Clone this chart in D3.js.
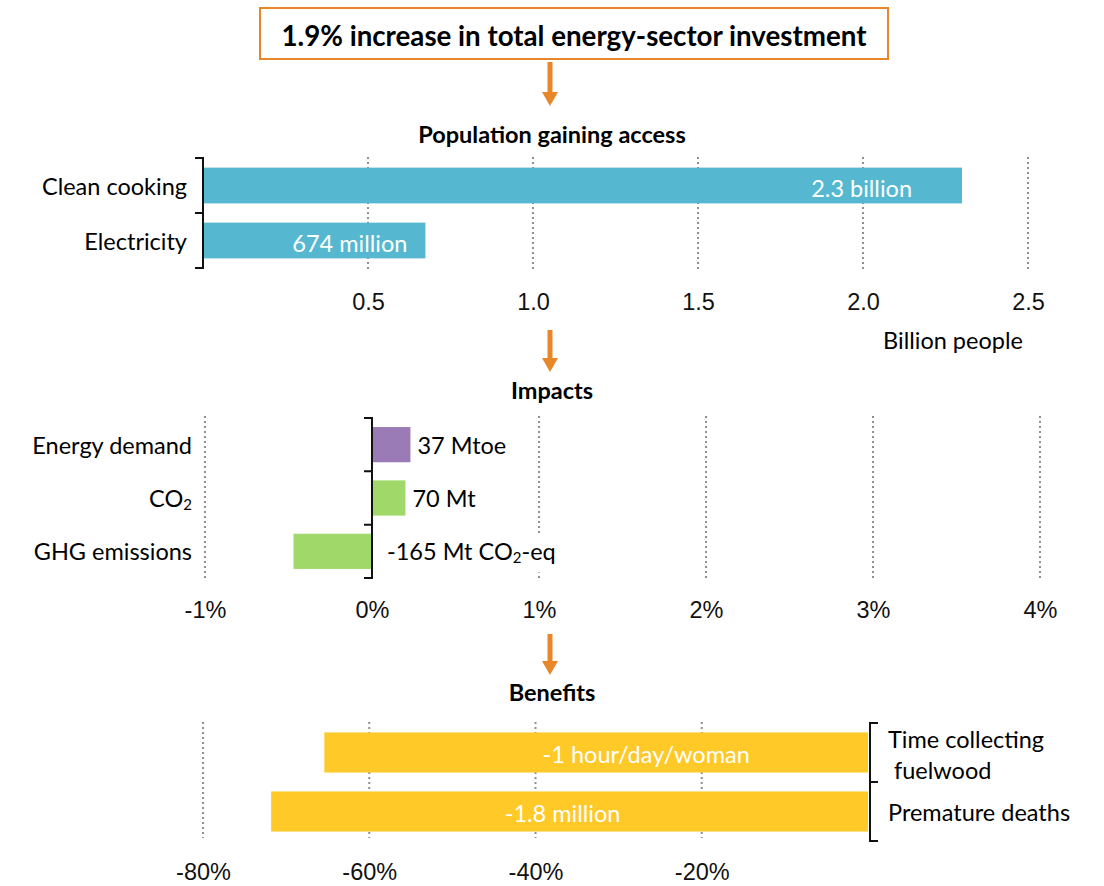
<!DOCTYPE html>
<html>
<head>
<meta charset="utf-8">
<script src="https://cdn.jsdelivr.net/npm/d3@7"></script>
<style>
    body { margin: 0; background: #fff; }
    svg { display: block; font-family: Lato, "Open Sans", sans-serif; }
    .grid { stroke: #909090; stroke-width: 2; stroke-dasharray: 2 3; }
    .bracket { fill: none; stroke: #111; stroke-width: 2; }
    .tick text { font-size: 23.5px; fill: #111; }
</style>
</head>
<body>
<script>
// Population gaining access (billion people)
var accessCategories = ["Clean cooking", "Electricity"];
var accessValues = [2.3, 0.674];
var accessLabels = ["2.3 billion", "674 million"];
var accessTicks = [0.5, 1.0, 1.5, 2.0, 2.5];

// Impacts (% change)
var impactCategories = ["Energy demand", "CO2", "GHG emissions"];
var impactValues = [0.23, 0.2, -0.47];
var impactLabels = ["37 Mtoe", "70 Mt", "-165 Mt CO2-eq"];
var impactColors = ["#9b7bb5", "#a0d86a", "#a0d86a"];
var impactTicks = [-1, 0, 1, 2, 3, 4];

// Benefits (% change)
var benefitCategories = [["Time collecting", "fuelwood"], ["Premature deaths"]];
var benefitValues = [-65.4, -71.8];
var benefitLabels = ["-1 hour/day/woman", "-1.8 million"];
var benefitTicks = [-80, -60, -40, -20];

var ORANGE = "#e8872a";
var FS = "23.5px";
var svg = d3.select("body").append("svg")
    .attr("width", 1104)
    .attr("height", 886);

// writes "CO2" style strings with a subscript 2
function subText(sel, str) {
    var parts = str.split("CO2");
    parts.forEach(function (p, i) {
        if (i > 0) {
            sel.append("tspan").text("CO");
            sel.append("tspan").attr("dy", 6).attr("font-size", "15px").text("2");
            sel.append("tspan").attr("dy", -6).text(p);
        } else if (p) {
            sel.append("tspan").text(p);
        }
    });
}

function arrow(x, y0, y1) {
    svg.append("rect")
        .attr("x", x - 2.5).attr("y", y0)
        .attr("width", 5).attr("height", y1 - y0 - 14)
        .attr("fill", ORANGE);
    svg.append("path")
        .attr("d", "M" + (x - 8) + "," + (y1 - 14) + "L" + (x + 8) + "," + (y1 - 14) + "L" + x + "," + y1 + "Z")
        .attr("fill", ORANGE);
}

function heading(text, y) {
    svg.append("text")
        .attr("x", 552).attr("y", y)
        .attr("text-anchor", "middle")
        .attr("dominant-baseline", "central")
        .attr("font-size", "23.5px")
        .attr("font-weight", "bold")
        .text(text);
}

function grid(x, ticks, y0, y1) {
    svg.append("g").selectAll("line")
        .data(ticks)
        .enter().append("line")
        .attr("class", "grid")
        .attr("x1", function (d) { return x(d); })
        .attr("x2", function (d) { return x(d); })
        .attr("y1", y0).attr("y2", y1);
}

function axis(x, ticks, y, fmt) {
    var g = svg.append("g")
        .attr("transform", "translate(0," + y + ")")
        .call(d3.axisBottom(x).tickValues(ticks).tickSize(0).tickFormat(fmt));
    g.select(".domain").remove();
    g.selectAll("text").attr("y", 0).attr("dy", "0.35em");
}

// bracket along the band edges; dir = -1 ticks to the left, +1 to the right
function bracket(y, xPos, dir) {
    var r = y.range(), step = y.step();
    var ys = d3.range(y.domain().length + 1).map(function (i) { return r[0] + i * step; });
    var d = "M" + (xPos + dir * 8) + "," + ys[0] + "H" + xPos + "V" + ys[ys.length - 1] + "H" + (xPos + dir * 8);
    ys.slice(1, -1).forEach(function (v) {
        d += "M" + xPos + "," + v + "H" + (xPos + dir * 8);
    });
    svg.append("path").attr("class", "bracket").attr("d", d);
}

// ---- title box
svg.append("rect")
    .attr("x", 260).attr("y", 8)
    .attr("width", 628).attr("height", 51)
    .attr("fill", "#fff")
    .attr("stroke", ORANGE).attr("stroke-width", 2);
svg.append("text")
    .attr("x", 574).attr("y", 35)
    .attr("text-anchor", "middle")
    .attr("dominant-baseline", "central")
    .attr("font-size", "27.7px")
    .attr("font-weight", "bold")
    .text("1.9% increase in total energy-sector investment");
arrow(550, 62, 106);

// ---- population gaining access
heading("Population gaining access", 134);

var xA = d3.scaleLinear().domain([0, 2.5]).range([203, 1028]);
var yA = d3.scaleBand().domain(accessCategories).range([158, 268])
    .paddingInner(0.35).paddingOuter(0.175);

grid(xA, accessTicks, 157, 270);

svg.append("g").selectAll("rect")
    .data(accessValues)
    .enter().append("rect")
    .attr("x", xA(0))
    .attr("y", function (d, i) { return yA(accessCategories[i]); })
    .attr("width", function (d) { return xA(d) - xA(0); })
    .attr("height", yA.bandwidth())
    .attr("fill", "#55b8d0");

svg.append("g").selectAll("text")
    .data(accessLabels)
    .enter().append("text")
    .attr("x", function (d, i) { return xA(accessValues[i]) - (i === 0 ? 50 : 18); })
    .attr("y", function (d, i) { return yA(accessCategories[i]) + yA.bandwidth() / 2 + 2; })
    .attr("text-anchor", "end")
    .attr("dominant-baseline", "central")
    .attr("font-size", FS)
    .attr("fill", "#fff")
    .text(function (d) { return d; });

svg.append("g").selectAll("text")
    .data(accessCategories)
    .enter().append("text")
    .attr("x", xA(0) - 16)
    .attr("y", function (d) { return yA(d) + yA.bandwidth() / 2; })
    .attr("text-anchor", "end")
    .attr("dominant-baseline", "central")
    .attr("font-size", FS)
    .text(function (d) { return d; });

bracket(yA, 203, -1);
axis(xA, accessTicks, 302, d3.format(".1f"));

svg.append("text")
    .attr("x", 953).attr("y", 340)
    .attr("text-anchor", "middle")
    .attr("dominant-baseline", "central")
    .attr("font-size", FS)
    .text("Billion people");

arrow(550, 330, 372);

// ---- impacts
heading("Impacts", 390);

var xI = d3.scaleLinear().domain([-1, 4]).range([205, 1040]);
var yI = d3.scaleBand().domain(impactCategories).range([418, 578])
    .paddingInner(0.34).paddingOuter(0.17);

grid(xI, impactTicks.filter(function (d) { return d !== 0; }), 416, 580);

svg.append("g").selectAll("rect")
    .data(impactValues)
    .enter().append("rect")
    .attr("x", function (d) { return xI(Math.min(0, d)); })
    .attr("y", function (d, i) { return yI(impactCategories[i]); })
    .attr("width", function (d) { return Math.abs(xI(d) - xI(0)); })
    .attr("height", yI.bandwidth())
    .attr("fill", function (d, i) { return impactColors[i]; });

// value labels sit on a white box, hiding the grid behind them
impactLabels.forEach(function (lab, i) {
    var g = svg.append("g");
    var bg = g.append("rect").attr("fill", "#fff");
    var t = g.append("text")
        .attr("x", xI(Math.max(0, impactValues[i])) + (impactValues[i] < 0 ? 15 : 7))
        .attr("y", yI(impactCategories[i]) + yI.bandwidth() / 2)
        .attr("dominant-baseline", "central")
        .attr("font-size", FS);
    subText(t, lab);
    var bb = t.node().getBBox();
    bg.attr("x", bb.x - 2).attr("y", bb.y - 4)
        .attr("width", bb.width + 4).attr("height", bb.height + 10);
});

impactCategories.forEach(function (c) {
    var t = svg.append("text")
        .attr("x", xI(-1) - 13)
        .attr("y", yI(c) + yI.bandwidth() / 2)
        .attr("text-anchor", "end")
        .attr("dominant-baseline", "central")
        .attr("font-size", FS);
    subText(t, c);
});

bracket(yI, xI(0), -1);
axis(xI, impactTicks, 610, function (d) { return d + "%"; });

arrow(550, 634, 675);

// ---- benefits
heading("Benefits", 692);

var xB = d3.scaleLinear().domain([-80, 0]).range([203, 868]);
var yB = d3.scaleBand().domain(benefitCategories.map(function (d) { return d.join(" "); }))
    .range([723, 841]).paddingInner(0.32).paddingOuter(0.16);

grid(xB, benefitTicks, 722, 838);

svg.append("g").selectAll("rect")
    .data(benefitValues)
    .enter().append("rect")
    .attr("x", function (d) { return xB(d); })
    .attr("y", function (d, i) { return yB(yB.domain()[i]); })
    .attr("width", function (d) { return xB(0) - xB(d); })
    .attr("height", yB.bandwidth())
    .attr("fill", "#ffc928");

svg.append("g").selectAll("text")
    .data(benefitLabels)
    .enter().append("text")
    .attr("x", function (d, i) { return (xB(benefitValues[i]) + xB(0)) / 2 + (i === 0 ? 50 : -7); })
    .attr("y", function (d, i) { return yB(yB.domain()[i]) + yB.bandwidth() / 2 + 1; })
    .attr("text-anchor", "middle")
    .attr("dominant-baseline", "central")
    .attr("font-size", FS)
    .attr("fill", "#fff")
    .text(function (d) { return d; });

benefitCategories.forEach(function (lines, i) {
    var cy = yB(yB.domain()[i]) + yB.bandwidth() / 2;
    var t = svg.append("text")
        .attr("font-size", FS)
        .attr("dominant-baseline", "central");
    lines.forEach(function (l, j) {
        t.append("tspan")
            .attr("x", xB(0) + 20 + j * 6)
            .attr("y", cy - (lines.length - 1) * 15 + j * 31 + (lines.length > 1 ? 1 : 0))
            .text(l);
    });
});

bracket(yB, 870, 1);
axis(xB, benefitTicks, 872, function (d) { return d + "%"; });
</script>
</body>
</html>
